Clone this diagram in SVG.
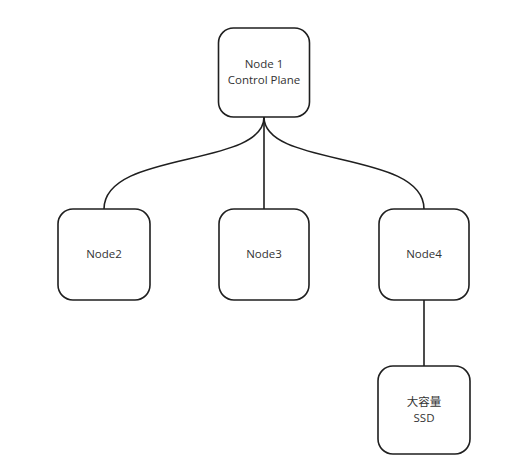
<svg xmlns="http://www.w3.org/2000/svg" width="531" height="474" viewBox="0 0 531 474">
<style>
.box{fill:#ffffff;stroke:#1f1f1f;stroke-width:1.6}
.lbl{font-family:"Open Sans","Noto Sans","Noto Sans CJK SC",sans-serif;font-size:11.5px;fill:#333333;text-anchor:middle}
.edge{fill:none;stroke:#1f1f1f;stroke-width:1.6}
</style>
<rect width="531" height="474" fill="#ffffff"/>
<g id="connectors">
<path class="edge" d="M264,117 C264,168 104,150 104,209"/>
<path class="edge" d="M264,117 L264,209"/>
<path class="edge" d="M264,117 C264,168 424,150 424,209"/>
<path class="edge" d="M424,300 L424,366"/>
</g>
<g id="node1">
<rect class="box" x="218.5" y="28" width="91" height="89" rx="15"/>
<text class="lbl" x="264" y="68">Node 1</text>
<text class="lbl" x="264" y="84">Control Plane</text>
</g>
<g id="node2">
<rect class="box" x="58" y="209" width="92" height="91" rx="15"/>
<text class="lbl" x="104" y="258">Node2</text>
</g>
<g id="node3">
<rect class="box" x="219" y="209" width="90" height="91" rx="15"/>
<text class="lbl" x="264" y="258">Node3</text>
</g>
<g id="node4">
<rect class="box" x="379" y="209" width="90" height="91" rx="15"/>
<text class="lbl" x="424" y="258">Node4</text>
</g>
<g id="ssd">
<rect class="box" x="378" y="366" width="92" height="88" rx="15"/>
<text class="lbl" x="424" y="406">大容量</text>
<text class="lbl" x="424" y="422">SSD</text>
</g>
</svg>
